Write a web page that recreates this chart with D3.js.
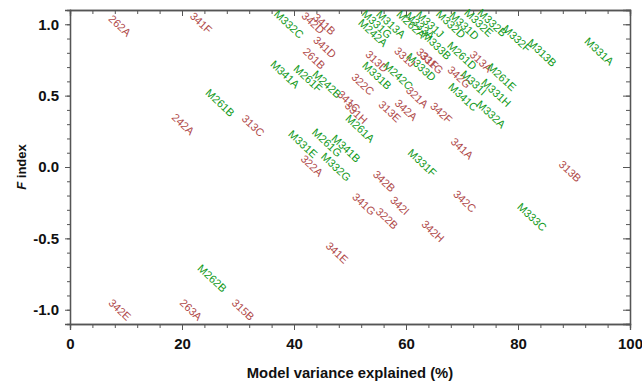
<!DOCTYPE html>
<html>
<head>
<meta charset="utf-8">
<script src="https://cdn.jsdelivr.net/npm/d3@7"></script>
<style>
  body { margin: 0; background: #fff; }
  text { font-family: "Liberation Sans", Arial, sans-serif; }
</style>
</head>
<body>
<svg id="chart" width="642" height="385"></svg>
<script>
// site labels, variance explained (%) and F index
const labels = ['262A', '341F', 'M332C', '342D', '341B', 'M331G', 'M313A', 'M242A', 'M262A', 'M333A',
  'M331J', 'M332D', 'M331D', 'M332E', 'M332B', 'M333B', 'M332F', 'M313B', 'M331A', '341D',
  '261B', '313D', '331J', '331F', '331G', 'M333D', 'M261D', '313A', 'M261E', '342G',
  'M331I', 'M331H', 'M341C', 'M332A', 'M341A', 'M261F', 'M242B', '322C', 'M331B', 'M242C',
  '321A', '341C', '331H', 'M261A', '313E', '342A', '342F', 'M261B', '242A', '313C',
  '341A', 'M331E', 'M261G', 'M341B', '322A', 'M332G', 'M331F', '313B', '342B', '342I',
  '341G', '322B', '342C', 'M333C', '342H', '341E', 'M262B', '342E', '263A', '315B'];
const variance = [8.9, 23.4, 39.1, 43.4, 45.4, 54.8, 57.3, 54.1, 60.9, 62.5,
  64.3, 68.0, 70.4, 73.0, 75.4, 65.5, 79.8, 84.3, 94.5, 45.5,
  43.6, 54.8, 59.8, 63.8, 64.6, 62.7, 70.0, 73.4, 77.1, 69.5,
  72.1, 76.1, 70.2, 75.2, 38.4, 42.5, 45.9, 52.3, 54.8, 58.6,
  62.0, 49.8, 51.1, 51.8, 57.1, 60.0, 66.3, 26.8, 20.2, 32.7,
  70.0, 41.6, 45.9, 49.3, 43.2, 47.5, 62.9, 89.3, 56.1, 58.9,
  52.5, 56.6, 70.5, 82.5, 64.8, 47.7, 25.4, 8.9, 21.6, 30.9];
const findex = [0.99, 1.01, 1.00, 1.01, 1.00, 1.00, 1.00, 0.94, 1.00, 0.99,
  1.00, 1.00, 0.99, 1.01, 1.01, 0.85, 0.90, 0.80, 0.81, 0.84,
  0.76, 0.74, 0.77, 0.76, 0.73, 0.70, 0.78, 0.74, 0.63, 0.63,
  0.59, 0.52, 0.49, 0.37, 0.65, 0.62, 0.58, 0.58, 0.64, 0.64,
  0.49, 0.46, 0.38, 0.27, 0.39, 0.40, 0.38, 0.45, 0.30, 0.29,
  0.13, 0.16, 0.17, 0.13, 0.01, 0.00, 0.03, -0.03, -0.10, -0.27,
  -0.26, -0.36, -0.24, -0.35, -0.45, -0.60, -0.78, -1.00, -1.00, -1.00];

const xTicks = [0, 20, 40, 60, 80, 100];
const yTicks = [-1.0, -0.5, 0.0, 0.5, 1.0];

const plotLeft = 70, plotRight = 630, plotTop = 10, plotBottom = 324;
const svg = d3.select('#chart');

const x = d3.scaleLinear().domain([0, 100]).range([plotLeft, plotRight]);
const y = d3.scaleLinear().domain([-1.1, 1.1]).range([plotBottom, plotTop]);

const axisColor = '#555';

function styleAxis(g) {
  g.select('.domain').attr('stroke', axisColor).attr('stroke-width', 1.3);
  g.selectAll('.tick line').attr('stroke', axisColor).attr('stroke-width', 1);
}

function styleLabels(g) {
  g.selectAll('text').attr('font-size', 15).attr('font-weight', 'bold').attr('fill', '#111')
    .attr('font-family', '"Liberation Sans", Arial, sans-serif');
}

// minor ticks first, then major ones with labels
const xMinor = d3.range(0, 101, 4);
const yMinor = d3.range(-11, 12).map(d => d / 10);

svg.append('g').attr('transform', `translate(0,${plotBottom})`)
  .call(d3.axisBottom(x).tickValues(xMinor).tickSize(4).tickFormat(''))
  .call(styleAxis);
svg.append('g').attr('transform', `translate(0,${plotBottom})`)
  .call(d3.axisBottom(x).tickValues(xTicks).tickSize(6).tickPadding(8).tickFormat(d3.format('d')))
  .call(styleAxis)
  .call(styleLabels);

svg.append('g').attr('transform', `translate(0,${plotTop})`)
  .call(d3.axisBottom(x).tickValues(xMinor).tickSize(4).tickFormat(''))
  .call(styleAxis);
svg.append('g').attr('transform', `translate(0,${plotTop})`)
  .call(d3.axisBottom(x).tickValues(xTicks).tickSize(6).tickFormat(''))
  .call(styleAxis);

svg.append('g').attr('transform', `translate(${plotLeft},0)`)
  .call(d3.axisLeft(y).tickValues(yMinor).tickSize(3).tickFormat(''))
  .call(styleAxis);
svg.append('g').attr('transform', `translate(${plotLeft},0)`)
  .call(d3.axisLeft(y).tickValues(yTicks).tickSize(5).tickPadding(6)
    .tickFormat(d => d.toFixed(1)))
  .call(styleAxis)
  .call(styleLabels);

svg.append('g').attr('transform', `translate(${plotRight},0)`)
  .call(d3.axisLeft(y).tickValues(yMinor).tickSize(4).tickFormat(''))
  .call(styleAxis);
svg.append('g').attr('transform', `translate(${plotRight},0)`)
  .call(d3.axisLeft(y).tickValues(yTicks).tickSize(7).tickFormat(''))
  .call(styleAxis);

// axis titles
svg.append('text')
  .attr('x', (plotLeft + plotRight) / 2).attr('y', 378)
  .attr('text-anchor', 'middle')
  .attr('font-size', 14.8).attr('font-weight', 'bold').attr('fill', '#111')
  .text('Model variance explained (%)');

const yt = svg.append('text')
  .attr('transform', `translate(26,${(plotTop + plotBottom) / 2}) rotate(-90)`)
  .attr('text-anchor', 'middle')
  .attr('font-size', 13).attr('font-weight', 'bold').attr('fill', '#111');
yt.append('tspan').attr('font-style', 'italic').text('F');
yt.append('tspan').text(' index');

// point labels
svg.append('g').selectAll('text')
  .data(labels)
  .join('text')
  .attr('transform', (d, i) => `translate(${x(variance[i])},${y(findex[i])}) rotate(43)`)
  .attr('text-anchor', 'middle')
  .attr('dy', '0.35em')
  .attr('font-size', 11)
  .attr('fill', d => d.startsWith('M') ? '#11991a' : '#b04a4a')
  .text(d => d);
</script>
</body>
</html>
